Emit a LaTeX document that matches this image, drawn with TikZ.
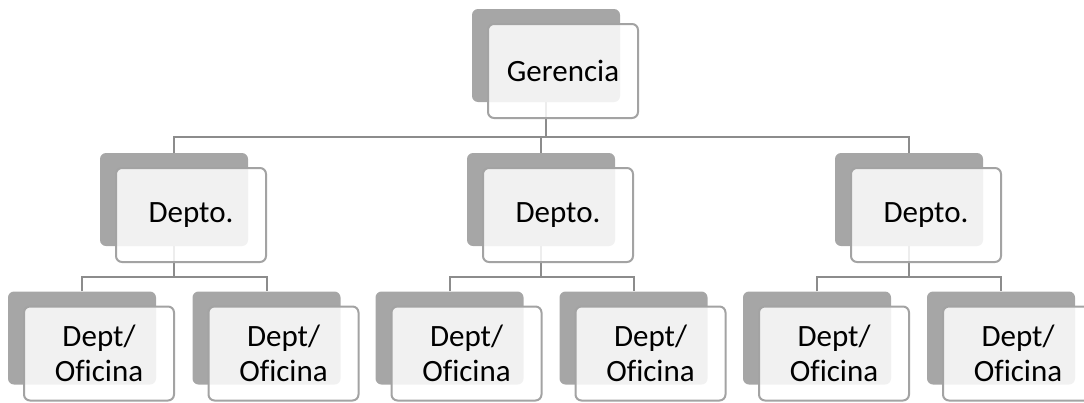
\documentclass[tikz,border=0pt]{standalone}
\usepackage{fontspec}
\setmainfont{Carlito}[Ligatures=NoCommon]
\definecolor{shadegray}{HTML}{A6A6A6}
\definecolor{framegray}{HTML}{A3A3A3}
\definecolor{linkgray}{HTML}{8C8C8C}
\begin{document}
\begin{tikzpicture}[x=1pt,y=-1pt,
  backbox/.style={fill=shadegray, rounded corners=6pt, inner sep=0pt,
    minimum width=148pt, minimum height=93pt},
  textbox/.style={fill=white, fill opacity=0.85, text opacity=1,
    draw=framegray, line width=2pt, rounded corners=6pt, inner sep=0pt,
    minimum width=150pt, minimum height=94pt, align=center,
    font=\fontsize{31}{35}\selectfont},
  link/.style={draw=linkgray, line width=2pt}]
\useasboundingbox (0,0) rectangle (1084,402);

% shaded back plates
\node[backbox] (g)   at (546,55.5)  {};
\node[backbox] (d1)  at (174,199.5) {};
\node[backbox] (d2)  at (541,199.5) {};
\node[backbox] (d3)  at (909,199.5) {};
\node[backbox] (o11) at (82,338)    {};
\node[backbox] (o12) at (266.5,338) {};
\node[backbox] (o21) at (449.5,338) {};
\node[backbox] (o22) at (633.5,338) {};
\node[backbox] (o31) at (817,338)   {};
\node[backbox] (o32) at (1001,338)  {};

% connectors
\coordinate (bus) at (546,137);
\coordinate (sb1) at (174,277);
\coordinate (sb2) at (541,277);
\coordinate (sb3) at (909,277);
\draw[link] (g.south) -- (g.south |- bus);
\draw[link] (d1.north) |- (bus) -| (d3.north);
\draw[link] (d2.north) -- (d2.north |- bus);
\draw[link] (d1.south) -- (sb1);
\draw[link] (o11.north) |- (sb1) -| (o12.north);
\draw[link] (d2.south) -- (sb2);
\draw[link] (o21.north) |- (sb2) -| (o22.north);
\draw[link] (d3.south) -- (sb3);
\draw[link] (o31.north) |- (sb3) -| (o32.north);

% text boxes
\node[textbox] (gt)   at (563,71)      {Gerencia};
\node[textbox] (d1t)  at (191,215)     {Depto.};
\node[textbox] (d2t)  at (558,215)     {Depto.};
\node[textbox] (d3t)  at (926,215)     {Depto.};
\node[textbox] (o11t) at (99,353.5)    {Dept/\\Oficina};
\node[textbox] (o12t) at (283.5,353.5) {Dept/\\Oficina};
\node[textbox] (o21t) at (466.5,353.5) {Dept/\\Oficina};
\node[textbox] (o22t) at (650.5,353.5) {Dept/\\Oficina};
\node[textbox] (o31t) at (834,353.5)   {Dept/\\Oficina};
\node[textbox] (o32t) at (1018,353.5)  {Dept/\\Oficina};
\end{tikzpicture}
\end{document}
